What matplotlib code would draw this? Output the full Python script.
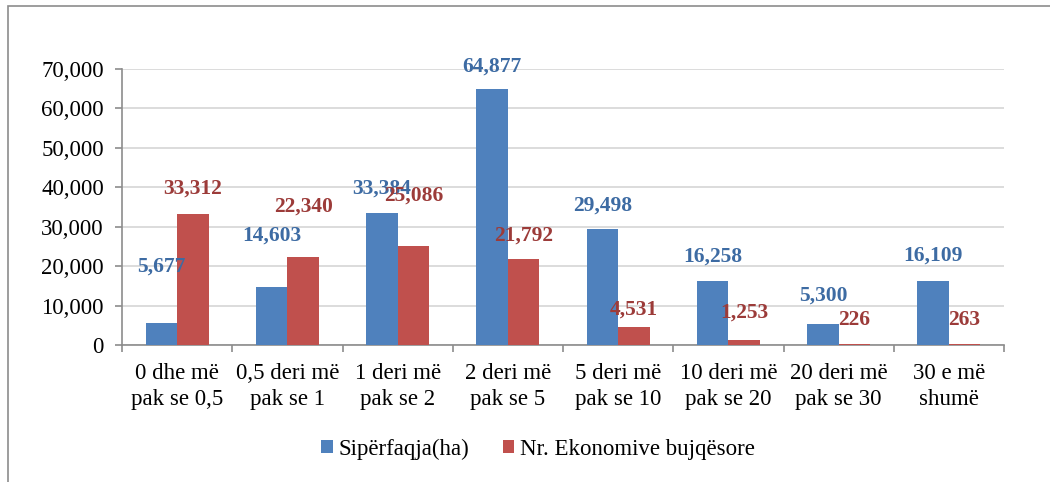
import numpy as np
import matplotlib as mat
mat.use('Agg')
import matplotlib.pyplot as plt
from matplotlib.patches import Rectangle

categories = ['0 dhe më\npak se 0,5', '0,5 deri më\npak se 1', '1 deri më\npak se 2',
              '2 deri më\npak se 5', '5 deri më\npak se 10', '10 deri më\npak se 20',
              '20 deri më\npak se 30', '30 e më\nshumë']
siperfaqja = [5677, 14603, 33384, 64877, 29498, 16258, 5300, 16109]
ekonomite = [33312, 22340, 25086, 21792, 4531, 1253, 226, 263]
series_names = ['Sipërfaqja(ha)', 'Nr. Ekonomive bujqësore']

# label offsets above bar top, in pixels (excel put some of them higher)
blue_off = [56, 52, 25, 23, 23, 24, 29, 26]
red_off = [25, 50, 50, 23, 18, 27, 24, 24]

plt.rcParams['font.family'] = ['Liberation Serif', 'DejaVu Serif']

fig = plt.figure(figsize=(10.5, 4.82), dpi=100)
ax = fig.add_axes([122/1050, 1 - 345/482, (1004-122)/1050, (345-69)/482])

# outer chart border (cut off at right/bottom in the original)
fig.patches.append(Rectangle((8/1050, -0.1), 1.2, 1 - 6/482 + 0.1, transform=fig.transFigure,
                             fill=False, edgecolor='#8c8c8c', linewidth=1.2))

x = np.arange(len(categories))
w = 0.285
b1 = ax.bar(x - w/2, siperfaqja, w, color='#4F81BD', label=series_names[0], zorder=3)
b2 = ax.bar(x + w/2, ekonomite, w, color='#C0504D', label=series_names[1], zorder=3)

for i in range(len(x)):
    ax.annotate('{:,}'.format(siperfaqja[i]), (x[i] - w/2, siperfaqja[i]),
                xytext=(0, blue_off[i]), textcoords='offset pixels', ha='center', va='center',
                fontsize=15.5, fontweight='bold', color='#3D6BA3', zorder=5)
    ax.annotate('{:,}'.format(ekonomite[i]), (x[i] + w/2, ekonomite[i]),
                xytext=(0, red_off[i]), textcoords='offset pixels', ha='center', va='center',
                fontsize=15.5, fontweight='bold', color='#9C3B39', zorder=5)

ax.set_xlim(-0.5, len(categories) - 0.5)
ax.set_ylim(0, 70000)
ax.set_yticks(np.arange(0, 70001, 10000))
ax.set_yticklabels(['{:,}'.format(v) for v in range(0, 70001, 10000)], fontsize=16.5)
ax.yaxis.grid(True, color='#d9d9d9', linewidth=1.3, zorder=0)
ax.set_axisbelow(True)

ax.set_xticks(np.arange(-0.5, len(categories), 1.0))
ax.set_xticklabels([])
ax.set_xticks(x, minor=True)
ax.set_xticklabels(categories, minor=True, fontsize=16.5, linespacing=1.3)
ax.tick_params(axis='x', which='minor', length=0, pad=13)
ax.tick_params(axis='x', which='major', length=5, color='#8c8c8c', width=1.2)
ax.tick_params(axis='y', length=5, color='#8c8c8c', width=1.2, pad=8)

for s in ['top', 'right']:
    ax.spines[s].set_visible(False)
ax.spines['left'].set_color('#8c8c8c')
ax.spines['bottom'].set_color('#8c8c8c')
ax.spines['left'].set_linewidth(1.2)
ax.spines['bottom'].set_linewidth(1.2)

fig.legend(handles=[b1, b2], loc='center', bbox_to_anchor=(538/1050, 1 - 449/482), ncol=2,
           frameon=False, fontsize=16.5, handlelength=0.5, handleheight=0.5,
           handletextpad=0.25, columnspacing=1.45)

plt.savefig('out.png', dpi=100)
